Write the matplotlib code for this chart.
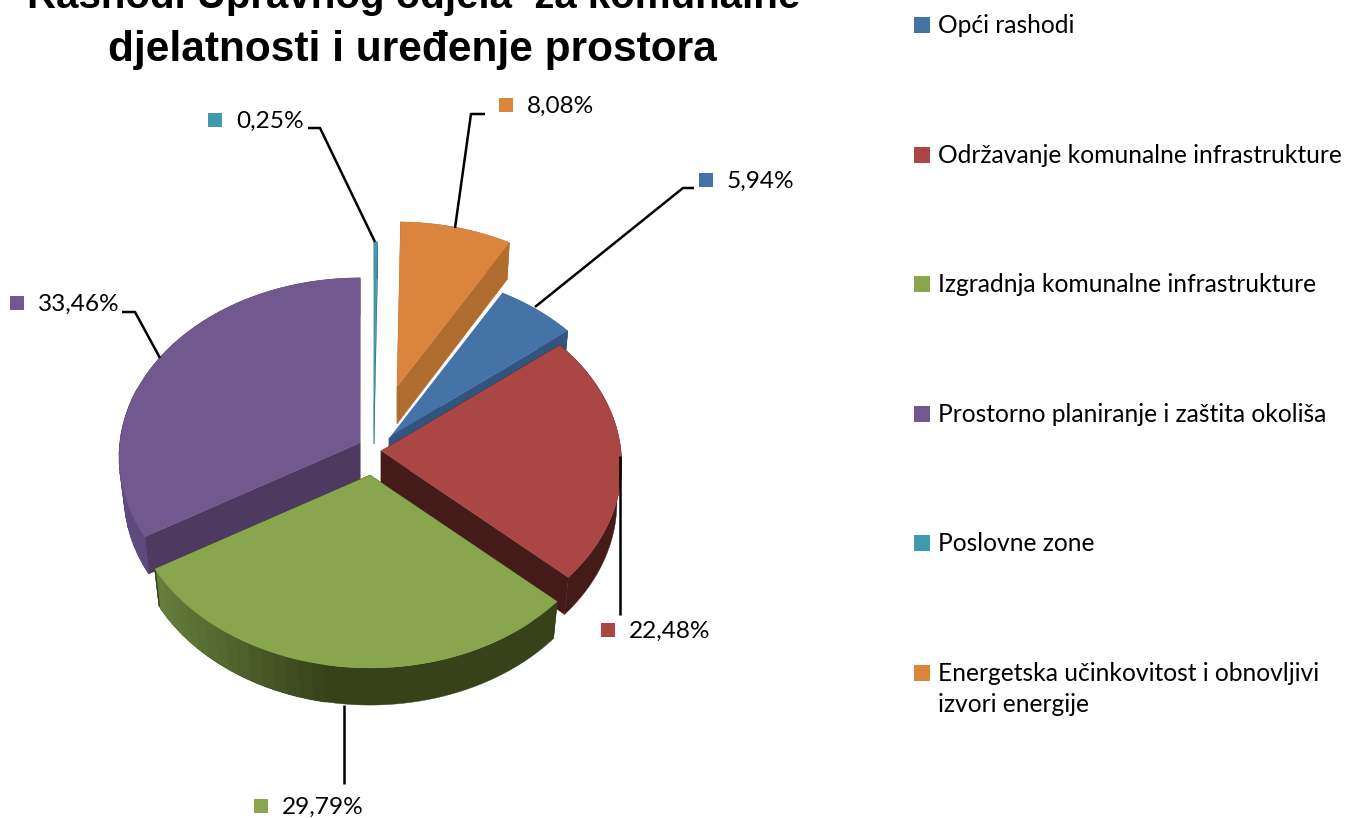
import numpy as np
import matplotlib
matplotlib.use('Agg')
import matplotlib.pyplot as plt

# Data
categories = ['Opći rashodi', 'Održavanje komunalne infrastrukture', 'Izgradnja komunalne infrastrukture',
              'Prostorno planiranje i zaštita okoliša', 'Poslovne zone',
              'Energetska učinkovitost i obnovljivi\nizvori energije']
values = [5.94, 22.48, 29.79, 33.46, 0.25, 8.08]
colors = ['#4573a7', '#aa4644', '#89a54e', '#71588f', '#4198af', '#db843d']
wall_colors = ['#32557f', '#451b19', '#374219', '#4c3a60', '#2c7486', '#b06d2f']
rim_light = ['#32557f', '#451b19', '#6a8540', '#5f4a80', '#2c7486', '#b06d2f']

# Exploded slice apex positions in pixels and pie projection
apex = [(389, 437), (381, 451), (370, 475), (360, 443), (374, 407), (397, 387)]
first_angle = 30.0
rx, ry, persp, depth = 240, 178, 0.078, 37
shrink = 0.98  # bottom of the pie is a bit narrower
draw_order = [5, 4, 0, 3, 1, 2]

label_marks = [(706, 180), (608, 630), (261, 806), (17, 303), (215, 120), (506, 105)]
leaders = [[(694, 188), (683, 188), (535, 307)], [(620, 456), (620, 615)], [(344, 705), (344, 784)],
           [(122, 312), (135, 312), (160, 358)], [(308, 128), (320, 128), (375, 242)],
           [(485, 114), (471, 114), (455, 228)]]
legend_y = [25, 155, 284, 414, 543, 673]

fig = plt.figure(figsize=(13.45, 8.18), dpi=100)
ax = fig.add_axes([0, 0, 1, 1])
ax.set_xlim(0, 1345)
ax.set_ylim(818, 0)
ax.axis('off')


def project(ang_deg, center):
    a = np.radians(ang_deg)
    u, v = np.sin(a), np.cos(a)
    w = 1 + persp * v
    return center[0] + rx * u / w, center[1] - ry * v / w


def hex_mix(c1, c2, t):
    a = np.array(matplotlib.colors.to_rgb(c1))
    b = np.array(matplotlib.colors.to_rgb(c2))
    return a * (1 - t) + b * t


shares = np.array(values) / sum(values) * 360
starts = first_angle + np.concatenate([[0], np.cumsum(shares)[:-1]])

for z, i in enumerate(draw_order):
    angs = np.linspace(starts[i], starts[i] + shares[i], max(int(shares[i]), 4))
    px, py = project(angs, apex[i])
    cx, cy = apex[i]
    bx = cx + (px - cx) * shrink
    by = py + depth

    # radial walls
    for k in [0, -1]:
        ax.fill([cx, px[k], bx[k], cx], [cy, py[k], by[k], cy + depth], color=wall_colors[i], lw=0.3, zorder=z)
    # outer rim, one piece then the lighter strips on top
    ax.fill(np.r_[px, bx[::-1]], np.r_[py, by[::-1]], color=wall_colors[i], lw=0.3, zorder=z)
    if rim_light[i] != wall_colors[i]:
        step = 3
        for j in range(0, len(angs) - step, step):
            u = np.sin(np.radians(angs[j]))
            t = np.clip((u + 0.9) / 0.75, 0, 1)
            if t >= 1 or np.cos(np.radians(angs[j])) > 0.3:
                continue
            e = j + step
            ax.fill(np.r_[px[j:e + 1], bx[j:e + 1][::-1]], np.r_[py[j:e + 1], by[j:e + 1][::-1]],
                    color=hex_mix(rim_light[i], wall_colors[i], t), lw=0.8, zorder=z)
    ax.fill(np.r_[cx, px], np.r_[cy, py], facecolor=colors[i], edgecolor='none', zorder=z + 0.5)
    if i == 0:
        ax.plot([cx, px[0]], [cy, py[0]], color='white', lw=1.2, zorder=z + 0.6)

# Leader lines and percent labels
for i, pts in enumerate(leaders):
    xs, ys = zip(*pts)
    ax.plot(xs, ys, color='black', lw=1.8, zorder=20, solid_capstyle='butt')
    mx, my = label_marks[i]
    ax.scatter([mx], [my], marker='s', s=95, color=colors[i], lw=0, zorder=21)
    ax.text(mx + 21, my + 1.5, f'{values[i]:.2f}'.replace('.', ',') + '%', fontsize=17.6, family='Lato',
            va='center', ha='left', color='black', zorder=21)

# Legend
for i, name in enumerate(categories):
    ax.scatter([922], [legend_y[i]], marker='s', s=125, color=colors[i], lw=0, zorder=21)
    ax.text(938, legend_y[i] - 11, name, fontsize=17.7, family='Lato', va='top', ha='left',
            linespacing=1.42, color='black', zorder=21)

# Title runs off the top edge like in the source
ax.text(414, -3, 'Rashodi Upravnog odjela  za komunalne', fontsize=29, fontweight='bold',
        family='Liberation Sans', ha='center', va='center', clip_on=True)
ax.text(412, 50, 'djelatnosti i uređenje prostora', fontsize=30.5, fontweight='bold',
        family='Liberation Sans', ha='center', va='center')

fig.savefig('out.png', dpi=100)
